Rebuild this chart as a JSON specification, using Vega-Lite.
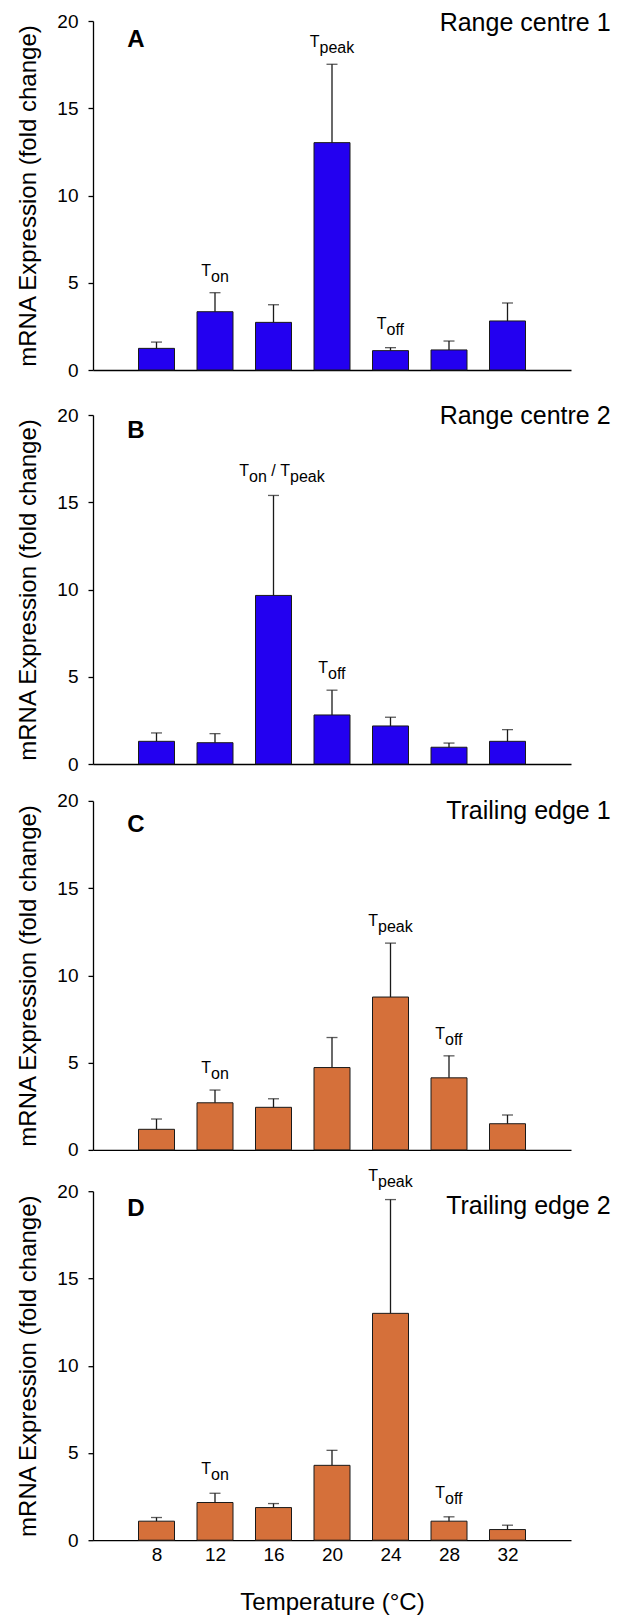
{
  "$schema": "https://vega.github.io/schema/vega-lite/v6.json",
  "background": "white",
  "padding": {"left": 16, "top": 10, "right": 5, "bottom": 0},
  "spacing": 7.2,
  "config": {
    "view": {"stroke": null},
    "axis": {"labelFont": "Liberation Sans", "titleFont": "Liberation Sans", "labelColor": "black", "titleColor": "black", "titleFontWeight": "normal", "domainColor": "black", "tickColor": "black", "grid": false},
    "text": {"font": "Liberation Sans", "fill": "black"}
  },
  "datasets": {
    "rows": [
      {"panel": "A", "kind": "bar", "temp": 8, "mean": 1.24, "upper": 1.60},
      {"panel": "A", "kind": "bar", "temp": 12, "mean": 3.34, "upper": 4.43},
      {"panel": "A", "kind": "bar", "temp": 16, "mean": 2.73, "upper": 3.74},
      {"panel": "A", "kind": "bar", "temp": 20, "mean": 13.03, "upper": 17.52},
      {"panel": "A", "kind": "bar", "temp": 24, "mean": 1.11, "upper": 1.28},
      {"panel": "A", "kind": "bar", "temp": 28, "mean": 1.15, "upper": 1.66},
      {"panel": "A", "kind": "bar", "temp": 32, "mean": 2.81, "upper": 3.84},
      {"panel": "B", "kind": "bar", "temp": 8, "mean": 1.30, "upper": 1.78},
      {"panel": "B", "kind": "bar", "temp": 12, "mean": 1.22, "upper": 1.74},
      {"panel": "B", "kind": "bar", "temp": 16, "mean": 9.66, "upper": 15.39},
      {"panel": "B", "kind": "bar", "temp": 20, "mean": 2.81, "upper": 4.23},
      {"panel": "B", "kind": "bar", "temp": 24, "mean": 2.18, "upper": 2.68},
      {"panel": "B", "kind": "bar", "temp": 28, "mean": 0.96, "upper": 1.20},
      {"panel": "B", "kind": "bar", "temp": 32, "mean": 1.30, "upper": 1.97},
      {"panel": "C", "kind": "bar", "temp": 8, "mean": 1.18, "upper": 1.77},
      {"panel": "C", "kind": "bar", "temp": 12, "mean": 2.70, "upper": 3.43},
      {"panel": "C", "kind": "bar", "temp": 16, "mean": 2.44, "upper": 2.93},
      {"panel": "C", "kind": "bar", "temp": 20, "mean": 4.72, "upper": 6.44},
      {"panel": "C", "kind": "bar", "temp": 24, "mean": 8.76, "upper": 11.85},
      {"panel": "C", "kind": "bar", "temp": 28, "mean": 4.13, "upper": 5.39},
      {"panel": "C", "kind": "bar", "temp": 32, "mean": 1.50, "upper": 2.00},
      {"panel": "D", "kind": "bar", "temp": 8, "mean": 1.09, "upper": 1.30},
      {"panel": "D", "kind": "bar", "temp": 12, "mean": 2.16, "upper": 2.69},
      {"panel": "D", "kind": "bar", "temp": 16, "mean": 1.87, "upper": 2.10},
      {"panel": "D", "kind": "bar", "temp": 20, "mean": 4.29, "upper": 5.15},
      {"panel": "D", "kind": "bar", "temp": 24, "mean": 13.0, "upper": 19.52},
      {"panel": "D", "kind": "bar", "temp": 28, "mean": 1.09, "upper": 1.34},
      {"panel": "D", "kind": "bar", "temp": 32, "mean": 0.61, "upper": 0.86},
      {"panel": "A", "kind": "label", "temp": 12, "y": 5.39, "sub": "on"},
      {"panel": "A", "kind": "label", "temp": 20, "y": 18.51, "sub": "peak"},
      {"panel": "A", "kind": "label", "temp": 24, "y": 2.35, "sub": "off"},
      {"panel": "B", "kind": "label", "temp": 16, "y": 16.5, "sub": "on / peak"},
      {"panel": "B", "kind": "label", "temp": 20, "y": 5.22, "sub": "off"},
      {"panel": "C", "kind": "label", "temp": 12, "y": 4.38, "sub": "on"},
      {"panel": "C", "kind": "label", "temp": 24, "y": 12.82, "sub": "peak"},
      {"panel": "C", "kind": "label", "temp": 28, "y": 6.34, "sub": "off"},
      {"panel": "D", "kind": "label", "temp": 12, "y": 3.78, "sub": "on"},
      {"panel": "D", "kind": "label", "temp": 24, "y": 20.6, "sub": "peak"},
      {"panel": "D", "kind": "label", "temp": 28, "y": 2.39, "sub": "off"},
      {"panel": "A", "kind": "title", "title": "Range centre 1", "letter": "A"},
      {"panel": "B", "kind": "title", "title": "Range centre 2", "letter": "B"},
      {"panel": "C", "kind": "title", "title": "Trailing edge 1", "letter": "C"},
      {"panel": "D", "kind": "title", "title": "Trailing edge 2", "letter": "D"}
    ]
  },
  "vconcat": [
    {
      "spacing": 17.9,
      "vconcat": [
        {
          "spacing": 23,
          "vconcat": [
            {
              "width": 478, "height": 349,
              "data": {"name": "rows"},
              "layer": [
                {"transform": [{"filter": "datum.panel == 'A' && datum.kind == 'bar'"}], "mark": {"type": "bar", "width": 36, "fill": "#2300F0", "stroke": "#1a1a1a", "strokeWidth": 1},
                 "encoding": {"x": {"field": "temp", "type": "quantitative", "scale": {"domain": [4, 36], "nice": false, "zero": false}, "axis": {"labels": false, "ticks": false, "title": null, "domainWidth": 1.3}},
                              "y": {"field": "mean", "type": "quantitative", "scale": {"domain": [0, 20], "nice": false}, "axis": {"values": [0, 5, 10, 15, 20], "title": "mRNA Expression (fold change)", "titleFontSize": 24, "titlePadding": 16, "labelFontSize": 19, "labelPadding": 10, "tickSize": 5, "tickWidth": 1.3, "domainWidth": 1.3}}}},
                {"transform": [{"filter": "datum.panel == 'A' && datum.kind == 'bar'"}], "mark": {"type": "rule", "color": "#1a1a1a", "strokeWidth": 1.3},
                 "encoding": {"x": {"field": "temp", "type": "quantitative"}, "y": {"field": "mean", "type": "quantitative"}, "y2": {"field": "upper"}}},
                {"transform": [{"filter": "datum.panel == 'A' && datum.kind == 'bar'"}], "mark": {"type": "tick", "orient": "horizontal", "color": "#1a1a1a", "size": 11, "thickness": 1.3},
                 "encoding": {"x": {"field": "temp", "type": "quantitative"}, "y": {"field": "upper", "type": "quantitative"}}},
                {"transform": [{"filter": "datum.panel == 'A' && datum.kind == 'label' && (datum.sub == 'on' || datum.sub == 'off')"}], "mark": {"type": "text", "text": "T", "align": "right", "baseline": "alphabetic", "dx": -4, "fontSize": 16},
                 "encoding": {"x": {"field": "temp", "type": "quantitative"}, "y": {"field": "y", "type": "quantitative"}}},
                {"transform": [{"filter": "datum.panel == 'A' && datum.kind == 'label' && (datum.sub == 'on' || datum.sub == 'off')"}], "mark": {"type": "text", "align": "left", "baseline": "alphabetic", "dx": -4, "dy": 6, "fontSize": 16},
                 "encoding": {"x": {"field": "temp", "type": "quantitative"}, "y": {"field": "y", "type": "quantitative"}, "text": {"field": "sub"}}},
                {"transform": [{"filter": "datum.panel == 'A' && datum.kind == 'label' && datum.sub == 'peak'"}], "mark": {"type": "text", "text": "T", "align": "right", "baseline": "alphabetic", "dx": -12.5, "fontSize": 16},
                 "encoding": {"x": {"field": "temp", "type": "quantitative"}, "y": {"field": "y", "type": "quantitative"}}},
                {"transform": [{"filter": "datum.panel == 'A' && datum.kind == 'label' && datum.sub == 'peak'"}], "mark": {"type": "text", "align": "left", "baseline": "alphabetic", "dx": -12.5, "dy": 6, "fontSize": 16},
                 "encoding": {"x": {"field": "temp", "type": "quantitative"}, "y": {"field": "y", "type": "quantitative"}, "text": {"field": "sub"}}},
                {"transform": [{"filter": "datum.panel == 'A' && datum.kind == 'title'"}], "mark": {"type": "text", "align": "right", "baseline": "alphabetic", "fontSize": 25},
                 "encoding": {"x": {"datum": 39.05}, "y": {"datum": 19.44}, "text": {"field": "title"}}},
                {"transform": [{"filter": "datum.panel == 'A' && datum.kind == 'title'"}], "mark": {"type": "text", "align": "left", "baseline": "alphabetic", "fontSize": 24, "fontWeight": "bold"},
                 "encoding": {"x": {"datum": 6.0}, "y": {"datum": 18.53}, "text": {"field": "letter"}}}
              ]
            },
            {
              "width": 478, "height": 349,
              "data": {"name": "rows"},
              "layer": [
                {"transform": [{"filter": "datum.panel == 'B' && datum.kind == 'bar'"}], "mark": {"type": "bar", "width": 36, "fill": "#2300F0", "stroke": "#1a1a1a", "strokeWidth": 1},
                 "encoding": {"x": {"field": "temp", "type": "quantitative", "scale": {"domain": [4, 36], "nice": false, "zero": false}, "axis": {"labels": false, "ticks": false, "title": null, "domainWidth": 1.3}},
                              "y": {"field": "mean", "type": "quantitative", "scale": {"domain": [0, 20], "nice": false}, "axis": {"values": [0, 5, 10, 15, 20], "title": "mRNA Expression (fold change)", "titleFontSize": 24, "titlePadding": 16, "labelFontSize": 19, "labelPadding": 10, "tickSize": 5, "tickWidth": 1.3, "domainWidth": 1.3}}}},
                {"transform": [{"filter": "datum.panel == 'B' && datum.kind == 'bar'"}], "mark": {"type": "rule", "color": "#1a1a1a", "strokeWidth": 1.3},
                 "encoding": {"x": {"field": "temp", "type": "quantitative"}, "y": {"field": "mean", "type": "quantitative"}, "y2": {"field": "upper"}}},
                {"transform": [{"filter": "datum.panel == 'B' && datum.kind == 'bar'"}], "mark": {"type": "tick", "orient": "horizontal", "color": "#1a1a1a", "size": 11, "thickness": 1.3},
                 "encoding": {"x": {"field": "temp", "type": "quantitative"}, "y": {"field": "upper", "type": "quantitative"}}},
                {"transform": [{"filter": "datum.panel == 'B' && datum.kind == 'label' && (datum.sub == 'on' || datum.sub == 'off')"}], "mark": {"type": "text", "text": "T", "align": "right", "baseline": "alphabetic", "dx": -4, "fontSize": 16},
                 "encoding": {"x": {"field": "temp", "type": "quantitative"}, "y": {"field": "y", "type": "quantitative"}}},
                {"transform": [{"filter": "datum.panel == 'B' && datum.kind == 'label' && (datum.sub == 'on' || datum.sub == 'off')"}], "mark": {"type": "text", "align": "left", "baseline": "alphabetic", "dx": -4, "dy": 6, "fontSize": 16},
                 "encoding": {"x": {"field": "temp", "type": "quantitative"}, "y": {"field": "y", "type": "quantitative"}, "text": {"field": "sub"}}},
                {"transform": [{"filter": "datum.panel == 'B' && datum.kind == 'label' && datum.sub == 'on / peak'"}], "mark": {"type": "text", "text": "T", "align": "right", "baseline": "alphabetic", "dx": -24.5, "fontSize": 16},
                 "encoding": {"x": {"field": "temp", "type": "quantitative"}, "y": {"field": "y", "type": "quantitative"}}},
                {"transform": [{"filter": "datum.panel == 'B' && datum.kind == 'label' && datum.sub == 'on / peak'"}], "mark": {"type": "text", "text": "on", "align": "right", "baseline": "alphabetic", "dx": -6.7, "dy": 6, "fontSize": 16},
                 "encoding": {"x": {"field": "temp", "type": "quantitative"}, "y": {"field": "y", "type": "quantitative"}}},
                {"transform": [{"filter": "datum.panel == 'B' && datum.kind == 'label' && datum.sub == 'on / peak'"}], "mark": {"type": "text", "text": "/", "align": "center", "baseline": "alphabetic", "fontSize": 16},
                 "encoding": {"x": {"field": "temp", "type": "quantitative"}, "y": {"field": "y", "type": "quantitative"}}},
                {"transform": [{"filter": "datum.panel == 'B' && datum.kind == 'label' && datum.sub == 'on / peak'"}], "mark": {"type": "text", "text": "T", "align": "left", "baseline": "alphabetic", "dx": 6.7, "fontSize": 16},
                 "encoding": {"x": {"field": "temp", "type": "quantitative"}, "y": {"field": "y", "type": "quantitative"}}},
                {"transform": [{"filter": "datum.panel == 'B' && datum.kind == 'label' && datum.sub == 'on / peak'"}], "mark": {"type": "text", "text": "peak", "align": "left", "baseline": "alphabetic", "dx": 16.5, "dy": 6, "fontSize": 16},
                 "encoding": {"x": {"field": "temp", "type": "quantitative"}, "y": {"field": "y", "type": "quantitative"}}},
                {"transform": [{"filter": "datum.panel == 'B' && datum.kind == 'title'"}], "mark": {"type": "text", "align": "right", "baseline": "alphabetic", "fontSize": 25},
                 "encoding": {"x": {"datum": 39.05}, "y": {"datum": 19.5}, "text": {"field": "title"}}},
                {"transform": [{"filter": "datum.panel == 'B' && datum.kind == 'title'"}], "mark": {"type": "text", "align": "left", "baseline": "alphabetic", "fontSize": 24, "fontWeight": "bold"},
                 "encoding": {"x": {"datum": 6.0}, "y": {"datum": 18.7}, "text": {"field": "letter"}}}
              ]
            }
          ]
        },
        {
          "width": 478, "height": 349,
          "data": {"name": "rows"},
          "layer": [
            {"transform": [{"filter": "datum.panel == 'C' && datum.kind == 'bar'"}], "mark": {"type": "bar", "width": 36, "fill": "#D5703A", "stroke": "#1a1a1a", "strokeWidth": 1},
             "encoding": {"x": {"field": "temp", "type": "quantitative", "scale": {"domain": [4, 36], "nice": false, "zero": false}, "axis": {"labels": false, "ticks": false, "title": null, "domainWidth": 1.3}},
                          "y": {"field": "mean", "type": "quantitative", "scale": {"domain": [0, 20], "nice": false}, "axis": {"values": [0, 5, 10, 15, 20], "title": "mRNA Expression (fold change)", "titleFontSize": 24, "titlePadding": 16, "labelFontSize": 19, "labelPadding": 10, "tickSize": 5, "tickWidth": 1.3, "domainWidth": 1.3}}}},
            {"transform": [{"filter": "datum.panel == 'C' && datum.kind == 'bar'"}], "mark": {"type": "rule", "color": "#1a1a1a", "strokeWidth": 1.3},
             "encoding": {"x": {"field": "temp", "type": "quantitative"}, "y": {"field": "mean", "type": "quantitative"}, "y2": {"field": "upper"}}},
            {"transform": [{"filter": "datum.panel == 'C' && datum.kind == 'bar'"}], "mark": {"type": "tick", "orient": "horizontal", "color": "#1a1a1a", "size": 11, "thickness": 1.3},
             "encoding": {"x": {"field": "temp", "type": "quantitative"}, "y": {"field": "upper", "type": "quantitative"}}},
            {"transform": [{"filter": "datum.panel == 'C' && datum.kind == 'label' && (datum.sub == 'on' || datum.sub == 'off')"}], "mark": {"type": "text", "text": "T", "align": "right", "baseline": "alphabetic", "dx": -4, "fontSize": 16},
             "encoding": {"x": {"field": "temp", "type": "quantitative"}, "y": {"field": "y", "type": "quantitative"}}},
            {"transform": [{"filter": "datum.panel == 'C' && datum.kind == 'label' && (datum.sub == 'on' || datum.sub == 'off')"}], "mark": {"type": "text", "align": "left", "baseline": "alphabetic", "dx": -4, "dy": 6, "fontSize": 16},
             "encoding": {"x": {"field": "temp", "type": "quantitative"}, "y": {"field": "y", "type": "quantitative"}, "text": {"field": "sub"}}},
            {"transform": [{"filter": "datum.panel == 'C' && datum.kind == 'label' && datum.sub == 'peak'"}], "mark": {"type": "text", "text": "T", "align": "right", "baseline": "alphabetic", "dx": -12.5, "fontSize": 16},
             "encoding": {"x": {"field": "temp", "type": "quantitative"}, "y": {"field": "y", "type": "quantitative"}}},
            {"transform": [{"filter": "datum.panel == 'C' && datum.kind == 'label' && datum.sub == 'peak'"}], "mark": {"type": "text", "align": "left", "baseline": "alphabetic", "dx": -12.5, "dy": 6, "fontSize": 16},
             "encoding": {"x": {"field": "temp", "type": "quantitative"}, "y": {"field": "y", "type": "quantitative"}, "text": {"field": "sub"}}},
            {"transform": [{"filter": "datum.panel == 'C' && datum.kind == 'title'"}], "mark": {"type": "text", "align": "right", "baseline": "alphabetic", "fontSize": 25},
             "encoding": {"x": {"datum": 39.05}, "y": {"datum": 18.99}, "text": {"field": "title"}}},
            {"transform": [{"filter": "datum.panel == 'C' && datum.kind == 'title'"}], "mark": {"type": "text", "align": "left", "baseline": "alphabetic", "fontSize": 24, "fontWeight": "bold"},
             "encoding": {"x": {"datum": 6.0}, "y": {"datum": 18.19}, "text": {"field": "letter"}}}
          ]
        }
      ]
    },
    {
      "width": 478, "height": 349,
      "data": {"name": "rows"},
      "layer": [
        {"transform": [{"filter": "datum.panel == 'D' && datum.kind == 'bar'"}], "mark": {"type": "bar", "width": 36, "fill": "#D5703A", "stroke": "#1a1a1a", "strokeWidth": 1},
         "encoding": {"x": {"field": "temp", "type": "quantitative", "scale": {"domain": [4, 36], "nice": false, "zero": false}, "axis": {"values": [8, 12, 16, 20, 24, 28, 32], "ticks": false, "labelFontSize": 19, "labelPadding": 5, "title": "Temperature (°C)", "titleFontSize": 24, "titlePadding": 26, "domainWidth": 1.3}},
                      "y": {"field": "mean", "type": "quantitative", "scale": {"domain": [0, 20], "nice": false}, "axis": {"values": [0, 5, 10, 15, 20], "title": "mRNA Expression (fold change)", "titleFontSize": 24, "titlePadding": 16, "labelFontSize": 19, "labelPadding": 10, "tickSize": 5, "tickWidth": 1.3, "domainWidth": 1.3}}}},
        {"transform": [{"filter": "datum.panel == 'D' && datum.kind == 'bar'"}], "mark": {"type": "rule", "color": "#1a1a1a", "strokeWidth": 1.3},
         "encoding": {"x": {"field": "temp", "type": "quantitative"}, "y": {"field": "mean", "type": "quantitative"}, "y2": {"field": "upper"}}},
        {"transform": [{"filter": "datum.panel == 'D' && datum.kind == 'bar'"}], "mark": {"type": "tick", "orient": "horizontal", "color": "#1a1a1a", "size": 11, "thickness": 1.3},
         "encoding": {"x": {"field": "temp", "type": "quantitative"}, "y": {"field": "upper", "type": "quantitative"}}},
        {"transform": [{"filter": "datum.panel == 'D' && datum.kind == 'label' && (datum.sub == 'on' || datum.sub == 'off')"}], "mark": {"type": "text", "text": "T", "align": "right", "baseline": "alphabetic", "dx": -4, "fontSize": 16},
         "encoding": {"x": {"field": "temp", "type": "quantitative"}, "y": {"field": "y", "type": "quantitative"}}},
        {"transform": [{"filter": "datum.panel == 'D' && datum.kind == 'label' && (datum.sub == 'on' || datum.sub == 'off')"}], "mark": {"type": "text", "align": "left", "baseline": "alphabetic", "dx": -4, "dy": 6, "fontSize": 16},
         "encoding": {"x": {"field": "temp", "type": "quantitative"}, "y": {"field": "y", "type": "quantitative"}, "text": {"field": "sub"}}},
        {"transform": [{"filter": "datum.panel == 'D' && datum.kind == 'label' && datum.sub == 'peak'"}], "mark": {"type": "text", "text": "T", "align": "right", "baseline": "alphabetic", "dx": -12.5, "fontSize": 16},
         "encoding": {"x": {"field": "temp", "type": "quantitative"}, "y": {"field": "y", "type": "quantitative"}}},
        {"transform": [{"filter": "datum.panel == 'D' && datum.kind == 'label' && datum.sub == 'peak'"}], "mark": {"type": "text", "align": "left", "baseline": "alphabetic", "dx": -12.5, "dy": 6, "fontSize": 16},
         "encoding": {"x": {"field": "temp", "type": "quantitative"}, "y": {"field": "y", "type": "quantitative"}, "text": {"field": "sub"}}},
        {"transform": [{"filter": "datum.panel == 'D' && datum.kind == 'title'"}], "mark": {"type": "text", "align": "right", "baseline": "alphabetic", "fontSize": 25},
         "encoding": {"x": {"datum": 39.05}, "y": {"datum": 18.67}, "text": {"field": "title"}}},
        {"transform": [{"filter": "datum.panel == 'D' && datum.kind == 'title'"}], "mark": {"type": "text", "align": "left", "baseline": "alphabetic", "fontSize": 24, "fontWeight": "bold"},
         "encoding": {"x": {"datum": 6.0}, "y": {"datum": 18.57}, "text": {"field": "letter"}}}
      ]
    }
  ]
}
